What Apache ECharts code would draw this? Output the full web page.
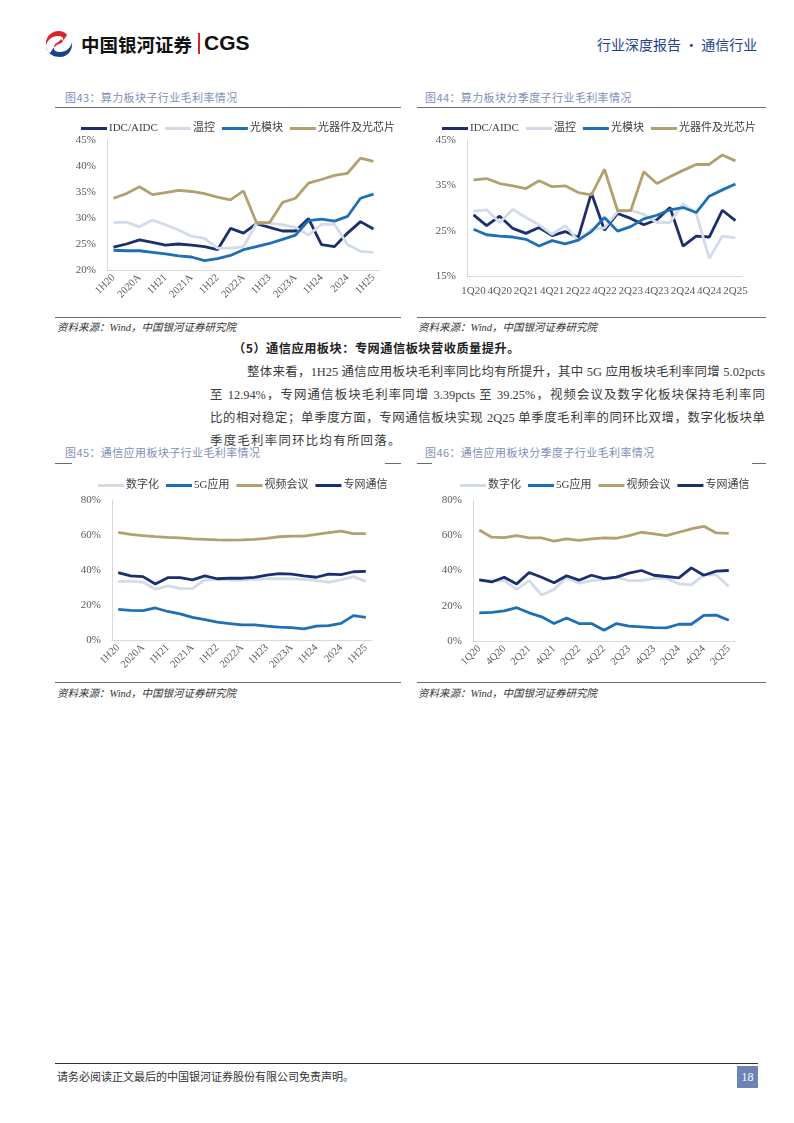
<!DOCTYPE html>
<html><head><meta charset="utf-8">
<script src="https://cdn.jsdelivr.net/npm/echarts@6/dist/echarts.min.js"></script>
<style>
html,body{margin:0;padding:0;background:#fff;}
#page{position:relative;width:794px;height:1123px;overflow:hidden;font-family:'Noto Sans CJK SC',sans-serif;color:#333;}
.abs{position:absolute;white-space:nowrap;}
.ttl{font-size:11px;color:#7f8fb7;letter-spacing:0.4px;}
.src{font-size:10.5px;color:#333;font-style:italic;font-family:'Liberation Serif','Noto Sans CJK SC',serif;}
.hl{position:absolute;height:1px;background:#6b6b6b;}
.para{position:absolute;font-size:12.4px;color:#3a3a3a;text-align:justify;text-align-last:justify;white-space:nowrap;font-family:'Liberation Serif','Noto Sans CJK SC',serif;}
#chart{position:absolute;left:0;top:0;width:794px;height:1123px;}
</style></head>
<body><div id="page">
<!-- header -->
<svg class="abs" style="left:44px;top:30px" width="30" height="28" viewBox="0 0 30 28">
  <path d="M15 1 C6 1 1 8 2 16 C3 10 8 6 14 6 C18 6 20 8 19 11 L23 5 C21 2 18 1 15 1 Z" fill="#d7262b"/>
  <path d="M2 16 C3 24 10 27 16 27 C24 27 29 20 28 12 C27 18 22 22 16 22 C12 22 9 20 10 17 L6 23 C3 21 2 19 2 16 Z" fill="#1d3f8f"/>
  <path d="M19 11 C18 14 12 14 11 17 L10 17 C10 13 16 12 17 9 Z" fill="#d7262b"/>
</svg>
<div class="abs" style="left:81px;top:31px;font-size:18.5px;font-weight:bold;color:#111;">中国银河证券</div>
<div class="abs" style="left:198px;top:33px;width:2px;height:21px;background:#d7262b;"></div>
<div class="abs" style="left:204px;top:31px;font-size:21px;font-weight:bold;color:#111;font-family:'Liberation Sans',Arial,sans-serif;">CGS</div>
<div class="abs" style="left:597px;top:34px;font-size:14px;color:#23408e;">行业深度报告 · 通信行业</div>

<!-- chart titles top -->
<div class="abs ttl" style="left:65px;top:89px;">图43：算力板块子行业毛利率情况</div>
<div class="abs ttl" style="left:425px;top:89px;">图44：算力板块分季度子行业毛利率情况</div>
<div class="hl" style="left:55px;top:107px;width:346px;"></div>
<div class="hl" style="left:417px;top:107px;width:349px;"></div>
<div class="hl" style="left:55px;top:317px;width:346px;"></div>
<div class="hl" style="left:417px;top:317px;width:349px;"></div>
<div class="abs src" style="left:57px;top:319px;">资料来源：Wind，中国银河证券研究院</div>
<div class="abs src" style="left:418px;top:319px;">资料来源：Wind，中国银河证券研究院</div>

<!-- text -->
<div class="abs" style="left:233px;top:339px;font-size:12.2px;font-weight:bold;color:#222;letter-spacing:0.5px;">（5）通信应用板块：专网通信板块营收质量提升。</div>
<div class="para" style="left:247px;top:362px;width:518px;">整体来看，1H25 通信应用板块毛利率同比均有所提升，其中 5G 应用板块毛利率同增 5.02pcts</div>
<div class="para" style="left:210px;top:385px;width:555px;">至 12.94%，专网通信板块毛利率同增 3.39pcts 至 39.25%，视频会议及数字化板块保持毛利率同</div>
<div class="para" style="left:210px;top:408px;width:555px;">比的相对稳定；单季度方面，专网通信板块实现 2Q25 单季度毛利率的同环比双增，数字化板块单</div>
<div class="para" style="left:210px;top:431px;text-align-last:left;letter-spacing:1.3px;">季度毛利率同环比均有所回落。</div>

<!-- chart titles bottom -->
<div class="abs ttl" style="left:65px;top:444px;">图45：通信应用板块子行业毛利率情况</div>
<div class="abs ttl" style="left:425px;top:444px;">图46：通信应用板块分季度子行业毛利率情况</div>
<div class="hl" style="left:55px;top:463px;width:17px;"></div>
<div class="hl" style="left:385px;top:463px;width:16px;"></div>
<div class="hl" style="left:417px;top:463px;width:15px;"></div>
<div class="hl" style="left:752px;top:463px;width:14px;"></div>
<div class="hl" style="left:55px;top:682px;width:346px;"></div>
<div class="hl" style="left:417px;top:682px;width:349px;"></div>
<div class="abs src" style="left:57px;top:685px;">资料来源：Wind，中国银河证券研究院</div>
<div class="abs src" style="left:418px;top:685px;">资料来源：Wind，中国银河证券研究院</div>

<!-- footer -->
<div class="hl" style="left:55px;top:1063px;width:703px;background:#333;"></div>
<div class="abs" style="left:57px;top:1068px;font-size:11px;color:#333;">请务必阅读正文最后的中国银河证券股份有限公司免责声明。</div>
<div class="abs" style="left:737px;top:1066px;width:21px;height:22px;background:#6d82b5;color:#fff;font-size:12px;line-height:22px;text-align:center;font-family:'Liberation Serif',serif;">18</div>

<div id="chart"></div>
</div>
<script>
// ---------- data ----------
const catHalf = ["1H20","1-3Q20","2020A","1Q21","1H21","1-3Q21","2021A","1Q22","1H22","1-3Q22","2022A","1Q23","1H23","1-3Q23","2023A","1Q24","1H24","1-3Q24","2024","1Q25","1H25"];
const catQ = ["1Q20","2Q20","4Q20","1Q21","2Q21","3Q21","4Q21","1Q22","2Q22","3Q22","4Q22","1Q23","2Q23","3Q23","4Q23","1Q24","2Q24","3Q24","4Q24","1Q25","2Q25"];

const namesA = ["IDC/AIDC","温控","光模块","光器件及光芯片"];
const namesB = ["数字化","5G应用","视频会议","专网通信"];

// 图43
const idc1 = [24.4,25.0,25.8,25.3,24.8,25.0,24.8,24.5,23.9,28.0,27.1,28.9,28.2,27.5,27.5,29.9,24.9,24.5,27.1,29.3,27.9];
const wk1  = [29.1,29.2,28.3,29.6,28.7,27.7,26.5,26.1,24.2,24.2,24.5,29.0,29.0,28.7,28.2,26.7,28.8,28.8,24.9,23.6,23.4];
const gm1  = [23.8,23.7,23.7,23.4,23.1,22.7,22.5,21.8,22.2,22.8,23.9,24.5,25.1,25.9,26.7,29.5,29.8,29.4,30.3,33.8,34.6];
const gq1  = [33.8,34.7,36.0,34.5,34.9,35.3,35.1,34.7,34.0,33.5,35.2,29.1,29.1,33.0,33.8,36.7,37.4,38.2,38.6,41.5,40.9];
// 图44
const idc2 = [28.5,26.1,28.2,25.5,24.4,25.7,23.9,24.8,23.5,33.3,25.1,28.8,27.7,26.3,27.4,30.1,21.6,23.8,23.6,29.5,27.2];
const wk2  = [29.3,29.6,26.8,29.7,27.9,26.3,24.2,26.1,22.8,25.3,25.6,29.2,29.5,28.6,26.8,26.8,30.9,28.8,18.9,23.8,23.4];
const gm2  = [25.3,24.1,23.8,23.6,23.1,21.6,22.8,22.1,22.9,24.8,27.9,24.9,25.9,27.6,28.4,29.6,30.1,29.0,32.6,34.0,35.3];
const gq2  = [36.2,36.5,35.4,34.9,34.3,36.0,34.7,34.9,33.4,32.9,38.5,29.4,29.4,38.0,35.4,36.9,38.3,39.6,39.6,41.7,40.4];
// 图45
const sz3 = [33.3,33.6,33.1,29.0,30.9,29.5,29.3,34.3,34.6,34.3,34.3,34.7,35.0,35.0,35.0,34.7,33.9,33.0,34.3,36.2,33.5];
const g53 = [17.5,16.9,16.8,18.3,16.3,14.9,12.9,11.6,10.2,9.4,8.6,8.7,7.9,7.4,7.1,6.3,7.92,8.2,9.5,13.9,12.94];
const sp3 = [61.5,60.4,59.7,59.1,58.6,58.3,57.8,57.5,57.2,57.1,57.2,57.5,58.1,59.0,59.4,59.4,60.3,61.3,62.2,60.8,60.8];
const zw3 = [38.5,36.6,36.2,32.0,35.6,35.6,34.4,36.6,35.0,35.3,35.3,35.8,37.1,37.9,37.6,36.7,35.86,37.7,37.4,39.0,39.25];
// 图46
const sz4 = [34.7,34.3,34.3,29.3,34.3,26.1,29.3,36.0,32.8,34.3,35.0,36.2,34.3,34.3,35.6,35.6,32.4,31.8,37.5,37.5,30.9];
const g54 = [16.0,16.2,17.1,18.9,16.0,13.7,9.9,13.1,9.9,9.9,6.1,9.9,8.4,8.0,7.6,7.4,9.5,9.5,14.5,14.7,11.8];
const sp4 = [63.0,58.9,58.7,59.8,58.5,58.5,56.6,57.9,57.1,57.9,58.5,58.3,59.8,61.7,60.8,59.8,61.7,63.6,65.1,61.3,61.1];
const zw4 = [34.7,33.5,36.2,32.4,38.9,36.2,33.1,37.0,34.5,37.3,35.4,36.2,38.5,40.0,37.3,36.6,35.8,41.5,37.3,39.6,40.0];

// ---------- styling ----------
const NAVY = '#1b2f6e', LIGHT = '#d3dbe8', BLUE = '#1f6fb5', GOLD = '#b3a070';
const FONT = "'Liberation Serif','Noto Sans CJK SC',serif";

const grids = [
  {left:107, top:140, width:273, height:130},
  {left:467, top:140, width:275, height:136},
  {left:112, top:500, width:260, height:140},
  {left:473, top:500, width:262, height:141}
];
const yCfg = [
  {min:20,max:45,interval:5},
  {min:15,max:45,interval:10},
  {min:0,max:80,interval:20},
  {min:0,max:80,interval:20}
];
const xCats = [catHalf, catQ, catHalf, catQ];
const xRot = [45, 0, 45, 45];

const chartDefs = [
  {names:namesA, data:[idc1,wk1,gm1,gq1], colors:[NAVY,LIGHT,BLUE,GOLD], legend:{left:76, top:118}},
  {names:namesA, data:[idc2,wk2,gm2,gq2], colors:[NAVY,LIGHT,BLUE,GOLD], legend:{left:437, top:118}},
  {names:namesB, data:[sz3,g53,sp3,zw3], colors:[LIGHT,BLUE,GOLD,NAVY], legend:{left:93, top:475}},
  {names:namesB, data:[sz4,g54,sp4,zw4], colors:[LIGHT,BLUE,GOLD,NAVY], legend:{left:455, top:475}}
];

const option = {
  animation:false,
  grid: grids,
  xAxis: grids.map((g,i)=>({
    type:'category', gridIndex:i, data:xCats[i], boundaryGap:true,
    axisLine:{show:true, lineStyle:{color:'#d9d9d9', width:1}},
    axisTick:{show:false},
    axisLabel:{interval:1, rotate:xRot[i], color:'#595959', fontSize:xRot[i]?10.5:11, fontFamily:FONT, margin: xRot[i]?6:10}
  })),
  yAxis: grids.map((g,i)=>({
    type:'value', gridIndex:i, min:yCfg[i].min, max:yCfg[i].max, interval:yCfg[i].interval,
    axisLine:{show:true, lineStyle:{color:'#d9d9d9', width:1}},
    axisTick:{show:false}, splitLine:{show:false},
    axisLabel:{formatter:'{value}%', color:'#595959', fontSize:11, fontFamily:FONT, margin:11}
  })),
  legend: chartDefs.map(c=>({
    left:c.legend.left, top:c.legend.top, itemWidth:26, itemHeight:3, itemGap:7, icon:'rect',
    textStyle:{fontSize:11, color:'#404040', fontFamily:FONT, padding:[0,0,0,-3]},
    data:c.names.map((n,k)=>({name:n, itemStyle:{color:c.colors[k]}}))
  })),
  series: []
};
chartDefs.forEach((c,i)=>{
  c.names.forEach((n,k)=>{
    option.series.push({
      type:'line', name:n, xAxisIndex:i, yAxisIndex:i, data:c.data[k],
      symbol:'none', smooth:false,
      lineStyle:{color:c.colors[k], width:2.8},
      itemStyle:{color:c.colors[k]}
    });
  });
});
const ch = echarts.init(document.getElementById('chart'), null, {renderer:'canvas'});
ch.setOption(option);
</script>
</body></html>
